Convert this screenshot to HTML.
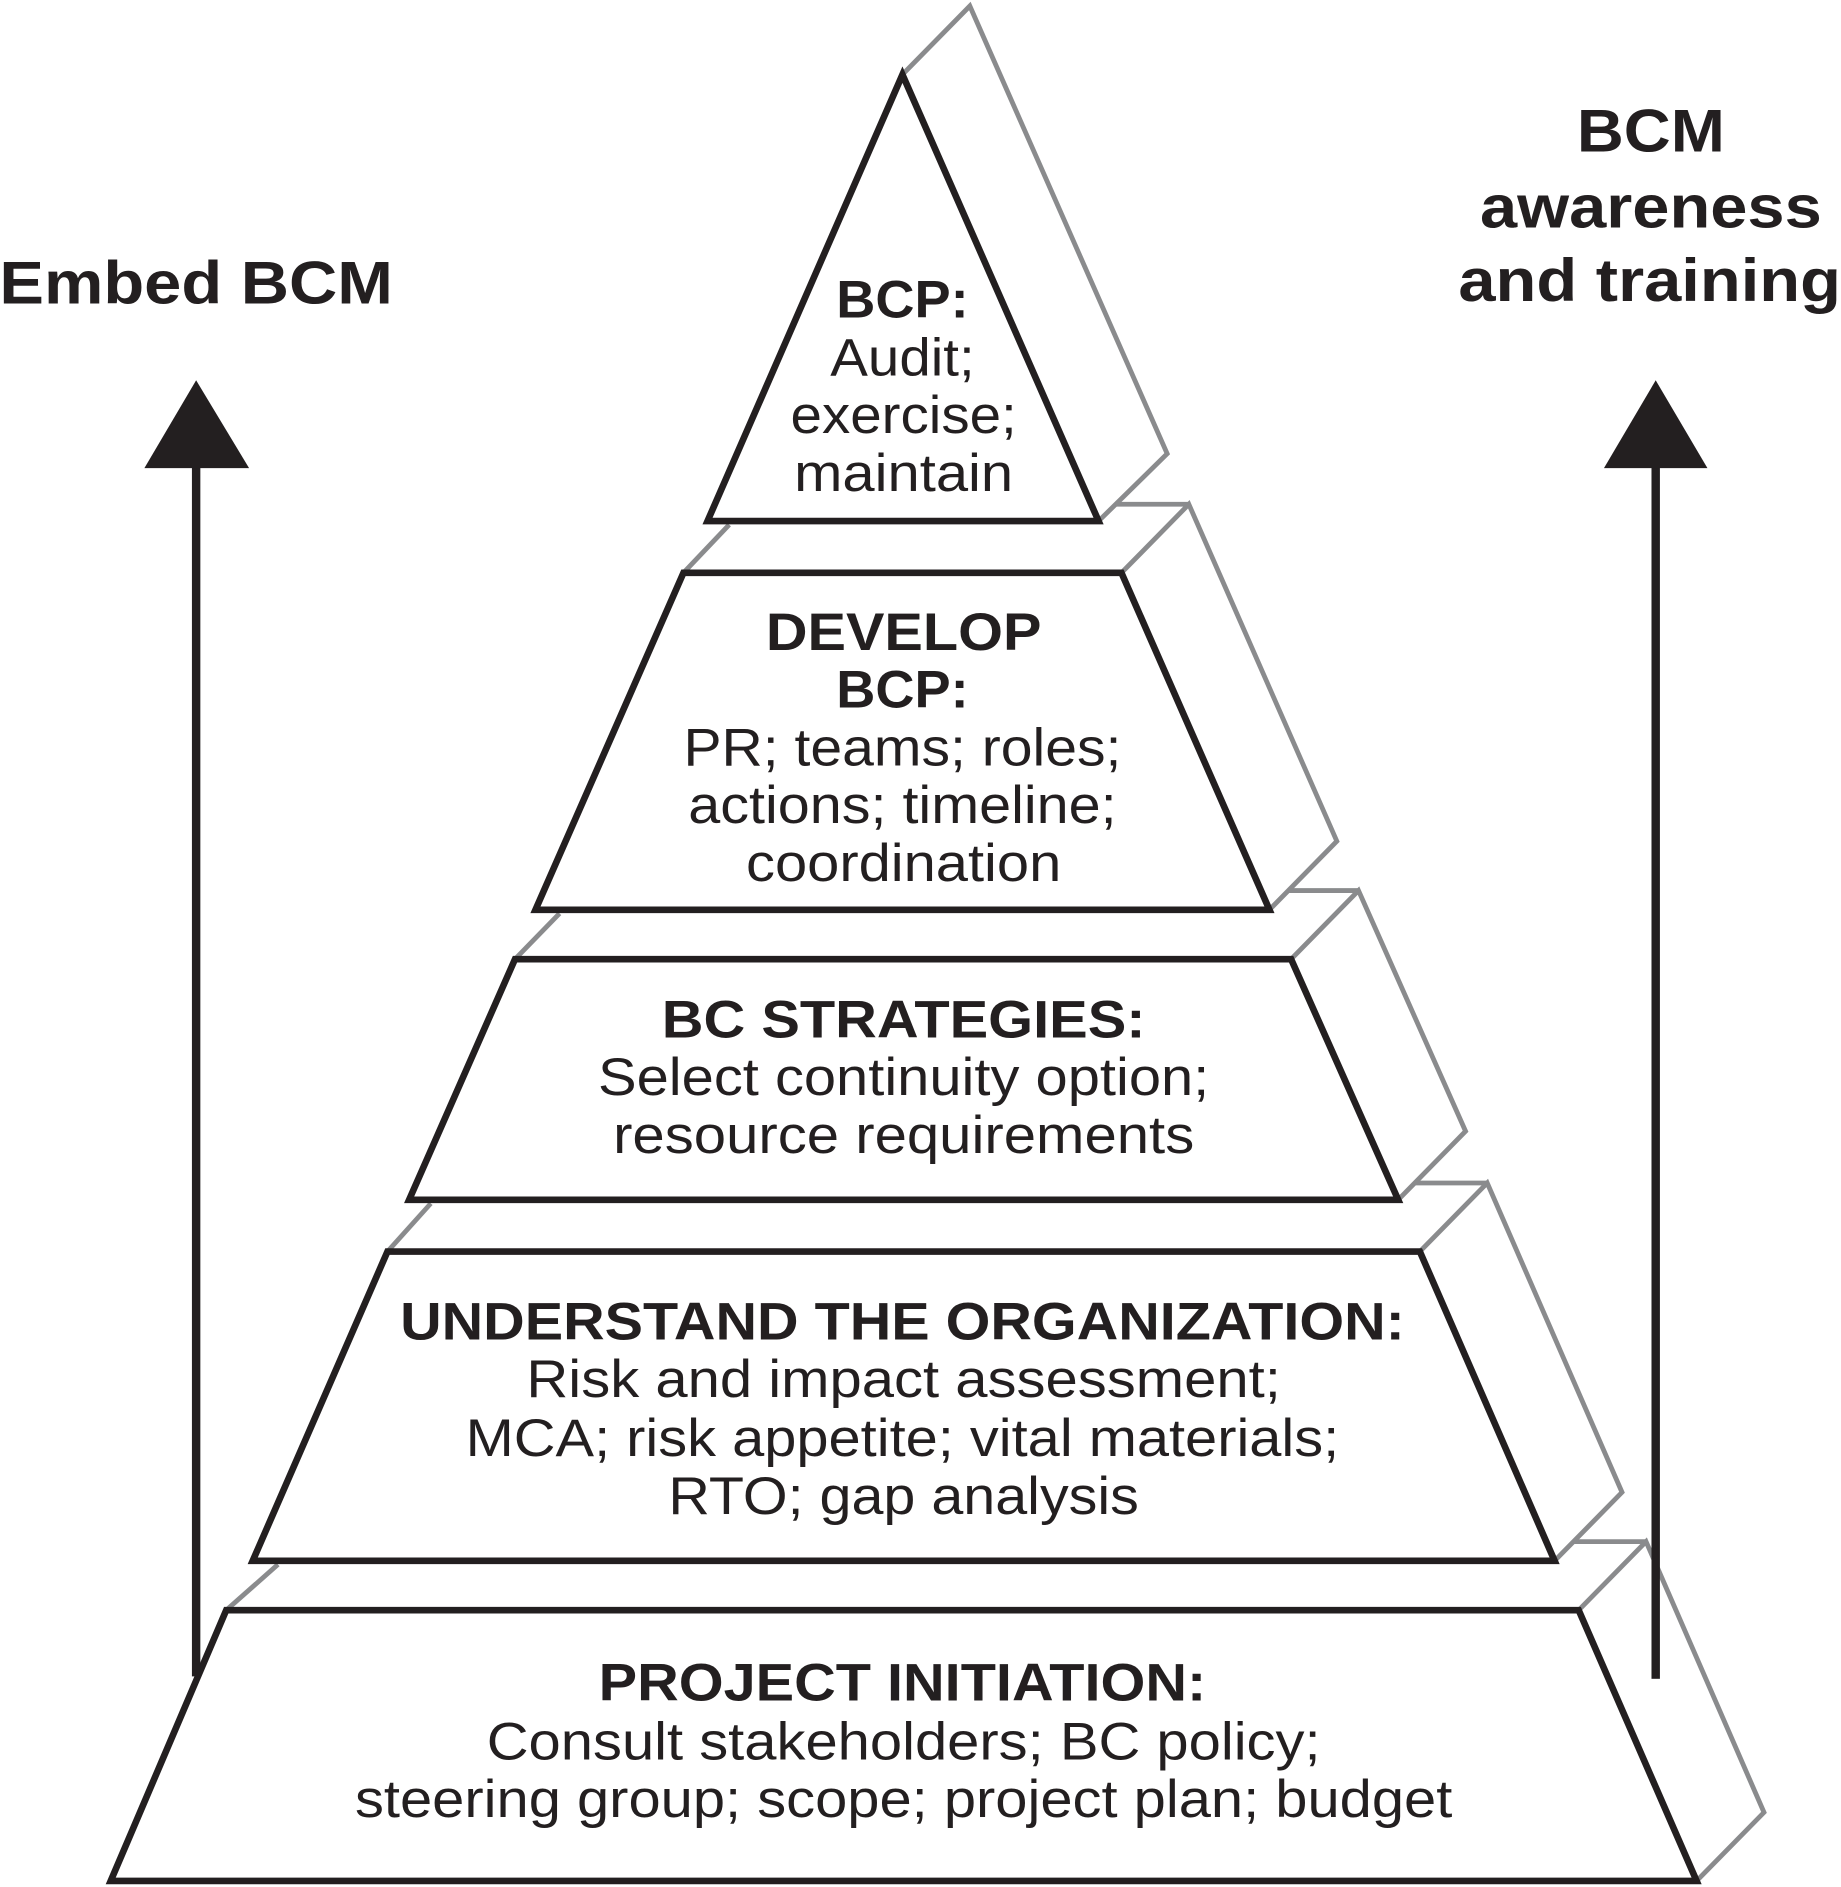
<!DOCTYPE html>
<html><head><meta charset="utf-8"><style>
html,body{margin:0;padding:0;background:#fff}
svg{display:block}
text{font-family:"Liberation Sans",Arial,sans-serif;fill:#231f20;text-anchor:middle}
.b{font-weight:bold}
</style></head><body>
<svg width="1841" height="1887" viewBox="0 0 1530 1568" preserveAspectRatio="none" xmlns="http://www.w3.org/2000/svg">
<g fill="none" stroke="#8a8b8d" stroke-width="4" stroke-linejoin="miter">
<!-- L1 back -->
<polyline points="750,62 806,5 970,377 913,433"/>
<!-- L2 -->
<polyline points="932,476 988,419 1111,699 1055,756"/>
<line x1="927" y1="419" x2="988" y2="419"/>
<line x1="606" y1="436" x2="568" y2="476"/>
<!-- L3 -->
<polyline points="1073,797 1129,740 1218,940 1162,997"/>
<line x1="1071" y1="740" x2="1129" y2="740"/>
<line x1="465" y1="759" x2="428" y2="797"/>
<!-- L4 -->
<polyline points="1180,1040 1236,983 1348,1240 1292,1297"/>
<line x1="1176" y1="983" x2="1236" y2="983"/>
<line x1="358" y1="1000" x2="322" y2="1040"/>
<!-- L5 -->
<polyline points="1312,1338 1368,1281 1466,1506 1410,1563"/>
<line x1="1308" y1="1281" x2="1368" y2="1281"/>
<line x1="231" y1="1300" x2="188" y2="1338"/>
</g>
<g fill="#fff" stroke="#231f20" stroke-width="5.5" stroke-linejoin="miter">
<polygon points="750,62 588,433 913,433"/>
<polygon points="568,476 932,476 1055,756 445,756"/>
<polygon points="428,797 1073,797 1162,997 340,997"/>
<polygon points="322,1040 1180,1040 1292,1297 210,1297"/>
<polygon points="188,1338 1312,1338 1410,1563 92,1563"/>
</g>
<!-- arrows -->
<g fill="#231f20" stroke="none">
<rect x="159.5" y="385" width="7" height="1008"/>
<polygon points="120,389 207,389 163,316"/>
<rect x="1372.5" y="385" width="7" height="1010"/>
<polygon points="1333,389 1419,389 1376,316"/>
</g>
<!-- side labels -->
<text class="b" x="163" y="252" font-size="50" textLength="327" lengthAdjust="spacingAndGlyphs">Embed BCM</text>
<text class="b" x="1372" y="126" font-size="50" textLength="123" lengthAdjust="spacingAndGlyphs">BCM</text>
<text class="b" x="1372" y="189" font-size="50" textLength="284" lengthAdjust="spacingAndGlyphs">awareness</text>
<text class="b" x="1371" y="250" font-size="50" textLength="318" lengthAdjust="spacingAndGlyphs">and training</text>
<!-- L1 -->
<g font-size="44">
<text class="b" x="750" y="264" textLength="110" lengthAdjust="spacingAndGlyphs">BCP:</text>
<text x="750" y="312" textLength="120" lengthAdjust="spacingAndGlyphs">Audit;</text>
<text x="751" y="360" textLength="188" lengthAdjust="spacingAndGlyphs">exercise;</text>
<text x="751" y="408" textLength="182" lengthAdjust="spacingAndGlyphs">maintain</text>
<!-- L2 -->
<text class="b" x="751" y="540" textLength="229" lengthAdjust="spacingAndGlyphs">DEVELOP</text>
<text class="b" x="750" y="588" textLength="110" lengthAdjust="spacingAndGlyphs">BCP:</text>
<text x="750" y="636" textLength="364" lengthAdjust="spacingAndGlyphs">PR; teams; roles;</text>
<text x="750" y="684" textLength="356" lengthAdjust="spacingAndGlyphs">actions; timeline;</text>
<text x="751" y="732" textLength="262" lengthAdjust="spacingAndGlyphs">coordination</text>
<!-- L3 -->
<text class="b" x="751" y="862" textLength="402" lengthAdjust="spacingAndGlyphs">BC STRATEGIES:</text>
<text x="751" y="910" textLength="508" lengthAdjust="spacingAndGlyphs">Select continuity option;</text>
<text x="751" y="958" textLength="483" lengthAdjust="spacingAndGlyphs">resource requirements</text>
<!-- L4 -->
<text class="b" x="750" y="1113" textLength="835" lengthAdjust="spacingAndGlyphs">UNDERSTAND THE ORGANIZATION:</text>
<text x="751" y="1161" textLength="627" lengthAdjust="spacingAndGlyphs">Risk and impact assessment;</text>
<text x="750" y="1210" textLength="726" lengthAdjust="spacingAndGlyphs">MCA; risk appetite; vital materials;</text>
<text x="751" y="1258" textLength="391" lengthAdjust="spacingAndGlyphs">RTO; gap analysis</text>
<!-- L5 -->
<text class="b" x="750" y="1413" textLength="505" lengthAdjust="spacingAndGlyphs">PROJECT INITIATION:</text>
<text x="751" y="1462" textLength="693" lengthAdjust="spacingAndGlyphs">Consult stakeholders; BC policy;</text>
<text x="751" y="1510" textLength="912" lengthAdjust="spacingAndGlyphs">steering group; scope; project plan; budget</text>
</g>
</svg>
</body></html>
